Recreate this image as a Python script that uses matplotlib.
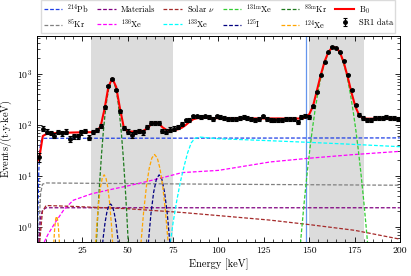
import numpy as np
import matplotlib
matplotlib.use("Agg")
import matplotlib.pyplot as plt
from matplotlib.ticker import MultipleLocator, LogLocator, NullFormatter

plt.rcParams['font.family'] = 'serif'
plt.rcParams['font.serif'] = ['cmr10', 'DejaVu Serif']
plt.rcParams['mathtext.fontset'] = 'cm'
plt.rcParams['axes.formatter.use_mathtext'] = True
plt.rcParams['axes.unicode_minus'] = False

# data: bin centres (94 bins over 0-200 keV) and rates in events/(t y keV)
edges = np.linspace(0, 200, 95)
energy = 0.5 * (edges[1:] + edges[:-1])
rate = [23, 84, 73, 69, 61, 72, 68, 73, 53, 59, 59, 71, 76, 56, 72, 79, 95, 218,
        580, 785, 485, 183, 86, 73, 63, 72, 76, 71, 90, 108, 108, 108, 76, 73,
        80, 84, 90, 103, 121, 125, 145, 145, 141, 145, 141, 131, 145, 141, 135,
        128, 128, 128, 135, 141, 135, 131, 125, 131, 145, 128, 125, 121, 125,
        125, 128, 131, 128, 111, 141, 150, 141, 228, 437, 926, 1660, 2610, 3400,
        3190, 2610, 1810, 950, 470, 245, 157, 135, 125, 125, 135, 135, 135, 141,
        135, 135, 128]
exposure = 1.18  # t y keV per bin, sets the size of the error bars
model_b0 = [20, 60, 66, 67.8, 68, 69.3, 68.8, 69.3, 69.8, 70.2, 70.5, 70.7, 70.9,
            71.1, 71.3, 73.8, 93, 205, 557, 805, 553, 207, 87, 72.7, 73.3, 73.6,
            74, 75.6, 84, 100, 110, 106, 89, 79, 77, 78, 81, 87, 98, 114, 128, 134,
            136, 137, 136, 135, 134, 133.5, 133, 133, 132.5, 132.5, 132.5, 132.5,
            132.5, 132.5, 132.5, 132.5, 132.5, 132.5, 132.5, 132.5, 132.5, 132,
            132, 132, 132, 132, 132, 137, 159, 232, 467, 942, 1740, 2670, 3310,
            3260, 2590, 1620, 850, 415, 222, 151, 134, 131, 131, 131, 131, 131,
            131, 131, 131, 131]

# background components
pb214_E = [0.3, 0.6, 1.0, 1.5, 2.0, 3.0, 200]
pb214 = [0.6, 3, 12, 30, 45, 54, 55]
kr85_E = [1.0, 1.5, 2.0, 3.0, 5.0, 50, 100, 200]
kr85 = [0.5, 2, 4.5, 6.8, 7.2, 7.0, 6.8, 6.5]
mat_E = [1.0, 2.0, 3.0, 5.0, 200]
mat = [0.5, 1.5, 2.1, 2.35, 2.35]
xe136_E = [4, 6, 10, 15, 20, 30, 40, 50, 60, 70, 80, 100, 128.6, 150, 175, 200]
xe136 = [0.5, 0.7, 1.2, 2.2, 3.3, 4.4, 5.3, 6.3, 7.6, 9.3, 11.5, 12.7, 18.6, 22,
         26, 30]
solar_E = [1.5, 3, 5, 20, 50, 80, 100, 128, 150, 175, 200]
solar = [0.5, 2.0, 2.6, 2.5, 2.25, 1.9, 1.65, 1.35, 1.1, 0.85, 0.57]
xe133_E = [73.5, 75, 77, 79, 81, 83, 85, 87, 90, 100, 125, 150, 175, 200]
xe133 = [0.5, 1.2, 3.2, 7.5, 15, 28, 44, 54, 57, 53, 49, 45, 41, 37]
xe131m_E = [142.7, 144.2, 145.7, 147.2, 148.7, 150.2, 151.7, 153.2, 154.7, 156.2,
            157.7, 159.2, 160.7, 162.2, 163.7, 165.2, 166.7, 168.2, 169.7, 171.2,
            172.7, 174.2, 175.7, 177.2, 178.7, 180.2, 181.7, 183.2, 184.7]
xe131m = [0.037, 0.177, 0.755, 2.87, 9.73, 29.3, 78.8, 188.5, 401, 760, 1282,
          1927, 2576, 3067, 3250, 3067, 2576, 1927, 1282, 760, 401, 188.5, 78.8,
          29.3, 9.73, 2.87, 0.755, 0.177, 0.037]
i125_E = [34.5, 35.5, 36.5, 37.5, 38.5, 39.5, 40.5, 41.5, 42.5, 43.5, 44.5, 45.5,
          46.5, 59.8, 61.3, 62.8, 64.3, 65.8, 67.3, 68.8, 70.3, 71.8, 73.3, 74.8]
i125 = [0.093, 0.264, 0.617, 1.20, 1.92, 2.55, 2.8, 2.55, 1.92, 1.20, 0.617,
        0.264, 0.093, 0.079, 0.457, 1.79, 4.76, 8.55, 10.4, 8.55, 4.76, 1.79,
        0.457, 0.079]
kr83m_E = [31.5, 32.5, 33.5, 34.5, 35.5, 36.5, 37.5, 38.5, 39.5, 40.5, 41.5, 42.5,
           43.5, 44.5, 45.5, 46.5, 47.5, 48.5, 49.5, 50.5, 51.5]
kr83m = [0.057, 0.345, 1.72, 7.11, 24.3, 68.7, 161, 312, 500, 664, 730, 664, 500,
         312, 161, 68.7, 24.3, 7.11, 1.72, 0.345, 0.057]
xe124_E = [8.3, 8.8, 9.3, 9.8, 10.3, 10.8, 11.3, 11.8, 12.3, 12.8, 13.3,
           31, 32, 33, 34, 35, 36, 37, 38, 39, 40, 41, 42, 43,
           55.8, 57.3, 58.8, 60.3, 61.8, 63.3, 64.8, 66.3, 67.8, 69.3, 70.8, 72.3,
           73.8]
xe124 = [0.07, 0.217, 0.52, 0.97, 1.41, 1.6, 1.41, 0.97, 0.52, 0.217, 0.07,
         0.071, 0.326, 1.13, 2.99, 5.98, 9.06, 10.4, 9.06, 5.98, 2.99, 1.13,
         0.326, 0.071,
         0.081, 0.474, 2.00, 6.15, 13.7, 22.2, 26, 22.2, 13.7, 6.15, 2.00, 0.474,
         0.081]

rate = np.array(rate)
err = np.sqrt(rate * exposure) / exposure

fig = plt.figure(figsize=(4.11, 2.76), dpi=100)
ax = fig.add_axes([0.09, 0.123, 0.883, 0.747])

ax.axvspan(30, 75, color='gainsboro', lw=0, zorder=0)
ax.axvspan(150, 180, color='gainsboro', lw=0, zorder=0)
ax.axvline(148.3, color='cornflowerblue', lw=0.9, zorder=1)

ds = (3, 1.5)
lw = 0.9
h_pb, = ax.plot(pb214_E, pb214, color='#1f3fe6', lw=lw, dashes=ds, label=r'$^{214}$Pb')
h_kr85, = ax.plot(kr85_E, kr85, color='gray', lw=lw, dashes=ds, label=r'$^{85}$Kr')
h_mat, = ax.plot(mat_E, mat, color='purple', lw=lw, dashes=ds, label='Materials')
h_136, = ax.plot(xe136_E, xe136, color='magenta', lw=lw, dashes=ds, label=r'$^{136}$Xe')
h_sol, = ax.plot(solar_E, solar, color='brown', lw=lw, dashes=ds, label=r'Solar $\nu$')
h_133, = ax.plot(xe133_E, xe133, color='cyan', lw=lw, dashes=ds, label=r'$^{133}$Xe')
h_131, = ax.plot(xe131m_E, xe131m, color='limegreen', lw=lw, dashes=ds, label=r'$^{131\mathrm{m}}$Xe')
h_125, = ax.plot(i125_E, i125, color='navy', lw=lw, dashes=ds, label=r'$^{125}$I')
h_83, = ax.plot(kr83m_E, kr83m, color='#1e7b1e', lw=lw, dashes=ds, label=r'$^{83\mathrm{m}}$Kr')
h_124, = ax.plot(xe124_E, xe124, color='orange', lw=lw, dashes=ds, label=r'$^{124}$Xe')
h_b0, = ax.plot(energy, model_b0, color='red', lw=1.5, label=r'B$_0$', zorder=4)
h_dat = ax.errorbar(energy, rate, yerr=err, fmt='o', color='black', ms=2.5,
                    elinewidth=0.8, capsize=1.5, capthick=0.8, label='SR1 data', zorder=5)

ax.set_yscale('log')
ax.set_xlim(0, 200)
ax.set_ylim(0.5, 5500)
ax.set_xticks([0, 25, 50, 75, 100, 125, 150, 175, 200])
ax.set_xticklabels(['', '25', '50', '75', '100', '125', '150', '175', '200'])
ax.xaxis.set_minor_locator(MultipleLocator(5))
ax.yaxis.set_major_locator(LogLocator(base=10, numticks=10))
ax.yaxis.set_minor_locator(LogLocator(base=10, subs=np.arange(2, 10), numticks=20))
ax.yaxis.set_minor_formatter(NullFormatter())
ax.tick_params(which='both', direction='in', top=True, right=True, labelsize=7)
ax.tick_params(which='major', length=3.5, width=0.6)
ax.tick_params(which='minor', length=2, width=0.5)
for s in ax.spines.values():
    s.set_linewidth(0.7)

ax.set_xlabel('Energy [keV]', fontsize=7.5, labelpad=2)
ax.set_ylabel(r'Events/(t$\cdot$y$\cdot$keV)', fontsize=7.5, labelpad=2)

handles = [h_pb, h_kr85, h_mat, h_136, h_sol, h_133, h_131, h_125, h_83, h_124, h_b0, h_dat]
ax.legend(handles=handles, loc='lower center', bbox_to_anchor=(0.5, 1.005), ncol=6,
          fontsize=6, frameon=True, fancybox=False, edgecolor='lightgray',
          handlelength=2.2, columnspacing=1.0, borderaxespad=0.2, handletextpad=0.6,
          borderpad=0.3, labelspacing=0.3)

fig.savefig('out.png', dpi=100)
